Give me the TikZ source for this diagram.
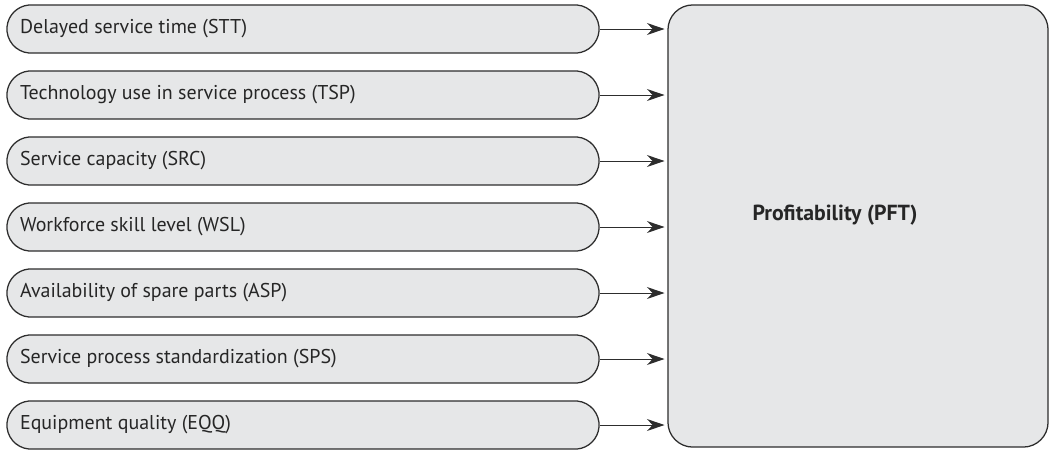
\documentclass[tikz,border=0pt]{standalone}
\usepackage{fontspec}
\setmainfont{PT Sans}
\usepackage{tikz}
\usetikzlibrary{shapes.misc}
\usetikzlibrary{arrows.meta}
\definecolor{boxfill}{RGB}{230,231,232}
\definecolor{boxline}{RGB}{45,45,45}
\tikzset{>={Stealth[length=12.5pt, width=8.5pt]}}
\tikzset{
  factor/.style={rounded rectangle, rounded rectangle arc length=170, draw=boxline, fill=boxfill, line width=0.9pt,
    minimum width=14.8cm, minimum height=1.2cm, inner sep=0pt},
  outcome/.style={rectangle, rounded corners=0.62cm, draw=boxline, fill=boxfill, line width=0.9pt,
    minimum width=9.5cm, minimum height=11.05cm, inner sep=0pt},
  link/.style={->, boxline, line width=0.7pt}
}

\begin{document}
\begin{tikzpicture}[x=0.025cm, y=-0.025cm, font=\fontsize{14.2}{16}\selectfont]

	\useasboundingbox (0,0) rectangle (1050,450);

	\node[outcome, label={[shift={(-23,-11)}, text=black!85, font=\fontsize{15.5}{18}\selectfont\bfseries]center:Profitability (PFT)}] (pft) at (858,226) {};

	\foreach \txt [count=\i] in {Delayed service time (STT),
		Technology use in service process (TSP),
		Service capacity (SRC),
		Workforce skill level (WSL),
		Availability of spare parts (ASP),
		Service process standardization (SPS),
		Equipment quality (EQQ)}
	{
		\node[factor, label={[anchor=west, xshift=0.22cm, text=black!85]west:\txt}] (f\i) at (303,{29+66*(\i-1)}) {};
		\draw[link] (f\i.east) -- ([xshift=-2pt]f\i.east -| pft.west);
	}
\end{tikzpicture}
\end{document}
